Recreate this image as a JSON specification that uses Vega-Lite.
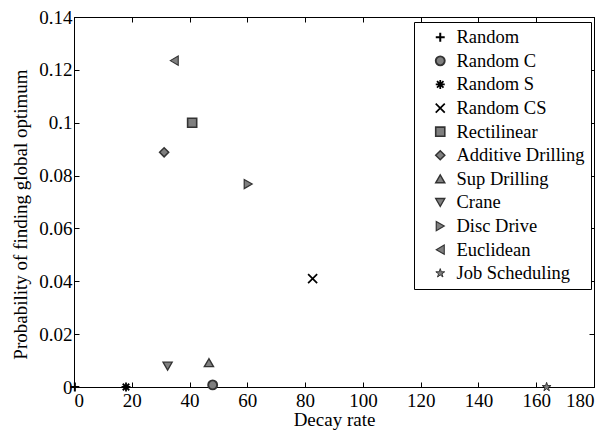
{
  "$schema": "https://vega.github.io/schema/vega-lite/v6.json",
  "width": 520,
  "height": 370,
  "autosize": {"type": "none"},
  "padding": {"left": 74, "top": 17, "right": 16, "bottom": 43},
  "background": "white",
  "config": {
    "view": {"stroke": "black", "strokeWidth": 1},
    "font": "Liberation Serif",
    "axis": {
      "grid": false,
      "domainColor": "black",
      "tickColor": "black",
      "labelColor": "black",
      "titleColor": "black",
      "labelFont": "Liberation Serif",
      "titleFont": "Liberation Serif",
      "labelFontSize": 19,
      "titleFontSize": 19,
      "titleFontWeight": "normal",
      "tickSize": -5
    },
    "legend": {
      "labelFont": "Liberation Serif",
      "labelFontSize": 18.5,
      "labelColor": "black"
    }
  },
  "data": {
    "values": [
      {"method": "Random", "decay": 0.3, "prob": 0},
      {"method": "Random C", "decay": 48, "prob": 0.0008},
      {"method": "Random S", "decay": 18, "prob": 0},
      {"method": "Random CS", "decay": 82.6, "prob": 0.041},
      {"method": "Rectilinear", "decay": 40.9, "prob": 0.1},
      {"method": "Additive Drilling", "decay": 31.2, "prob": 0.0888},
      {"method": "Sup Drilling", "decay": 46.7, "prob": 0.0092},
      {"method": "Crane", "decay": 32.4, "prob": 0.0079},
      {"method": "Disc Drive", "decay": 60.3, "prob": 0.0768},
      {"method": "Euclidean", "decay": 34.7, "prob": 0.1235},
      {"method": "Job Scheduling", "decay": 163.6, "prob": 0}
    ]
  },
  "layer": [
    {
      "mark": {"type": "point", "filled": false, "strokeWidth": 1, "opacity": 1},
      "encoding": {
        "x": {
          "field": "decay", "type": "quantitative",
          "scale": {"domain": [0, 180], "nice": false, "zero": false},
          "axis": {"title": "Decay rate", "values": [0,20,40,60,80,100,120,140,160,180], "labelPadding": 9, "titlePadding": 0}
        },
        "y": {
          "field": "prob", "type": "quantitative",
          "scale": {"domain": [0, 0.14], "nice": false},
          "axis": {"title": "Probability of finding global optimum", "values": [0,0.02,0.04,0.06,0.08,0.1,0.12,0.14], "format": "~g", "labelPadding": 7, "titlePadding": 8, "titleY": 197}
        },
        "shape": {
          "field": "method", "type": "nominal",
          "scale": {
            "domain": ["Random","Random C","Random S","Random CS","Rectilinear","Additive Drilling","Sup Drilling","Crane","Disc Drive","Euclidean","Job Scheduling"],
            "range": [
              "M-1,0L1,0M0,-1L0,1",
              "circle",
              "M-1,0L1,0M0,-1L0,1M-0.72,-0.72L0.72,0.72M-0.72,0.72L0.72,-0.72",
              "M-1,-1L1,1M-1,1L1,-1",
              "square",
              "diamond",
              "triangle-up",
              "triangle-down",
              "triangle-right",
              "triangle-left",
              "M0,-1L0.2245,-0.309L0.951,-0.309L0.363,0.118L0.588,0.809L0,0.382L-0.588,0.809L-0.363,0.118L-0.951,-0.309L-0.2245,-0.309Z"
            ]
          },
          "legend": {
            "title": null,
            "orient": "none",
            "legendX": 340,
            "legendY": 5,
            "strokeColor": "black",
            "fillColor": "white",
            "padding": 6,
            "rowPadding": 4.6,
            "symbolStrokeWidth": 1,
            "symbolOffset": 11,
            "labelOffset": 7,
            "offset": 0
          }
        },
        "size": {
          "field": "method", "type": "nominal",
          "scale": {
            "domain": ["Random","Random C","Random S","Random CS","Rectilinear","Additive Drilling","Sup Drilling","Crane","Disc Drive","Euclidean","Job Scheduling"],
            "range": [80, 86, 100, 64, 70, 100, 120, 120, 120, 120, 240]
          }
        },
        "fill": {
          "field": "method", "type": "nominal",
          "scale": {
            "domain": ["Random","Random C","Random S","Random CS","Rectilinear","Additive Drilling","Sup Drilling","Crane","Disc Drive","Euclidean","Job Scheduling"],
            "range": ["transparent","#7f7f7f","transparent","transparent","#7f7f7f","#7f7f7f","#7f7f7f","#7f7f7f","#7f7f7f","#7f7f7f","#7f7f7f"]
          }
        },
        "stroke": {
          "field": "method", "type": "nominal",
          "scale": {
            "domain": ["Random","Random C","Random S","Random CS","Rectilinear","Additive Drilling","Sup Drilling","Crane","Disc Drive","Euclidean","Job Scheduling"],
            "range": ["#000000","#333333","#000000","#000000","#333333","#333333","#333333","#333333","#333333","#333333","#333333"]
          }
        },
        "strokeWidth": {
          "field": "method", "type": "nominal",
          "scale": {
            "domain": ["Random","Random C","Random S","Random CS","Rectilinear","Additive Drilling","Sup Drilling","Crane","Disc Drive","Euclidean","Job Scheduling"],
            "range": [2,1,2,2,1,1,1,1,1,1,1]
          }
        }
      }
    },
    {
      "mark": {"type": "point", "opacity": 0},
      "encoding": {
        "x": {"field": "decay", "type": "quantitative", "axis": {"orient": "top", "labels": false, "title": null, "values": [0,20,40,60,80,100,120,140,160,180]}},
        "y": {"field": "prob", "type": "quantitative", "axis": {"orient": "right", "labels": false, "title": null, "values": [0,0.02,0.04,0.06,0.08,0.1,0.12,0.14]}}
      }
    }
  ],
  "resolve": {"axis": {"x": "independent", "y": "independent"}}
}
